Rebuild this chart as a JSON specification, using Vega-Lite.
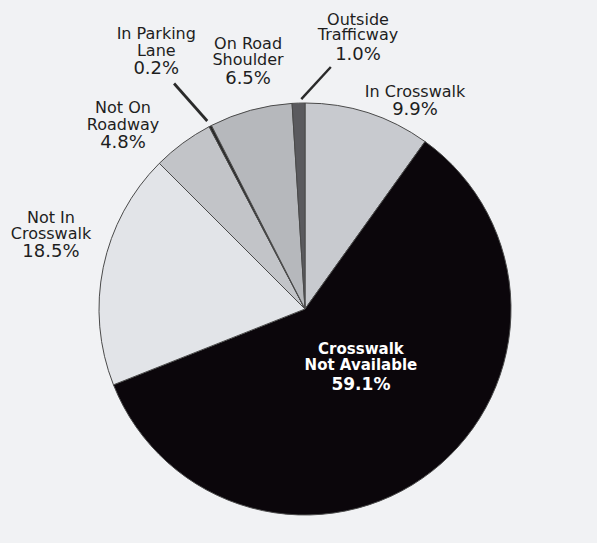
{
  "$schema": "https://vega.github.io/schema/vega-lite/v6.json",
  "autosize": {"type": "none"},
  "width": 584,
  "height": 468,
  "padding": {"left": 13, "top": 75, "right": 0, "bottom": 0},
  "background": "#f1f2f4",
  "view": {"stroke": null, "fill": "#f1f2f4"},
  "config": {
    "text": {"font": "DejaVu Sans", "color": "#1e1e1e"}
  },
  "data": {
    "values": [
      {"category": "In Crosswalk", "value": 9.9, "order": 1, "name": ["In Crosswalk"], "pct": "9.9%"},
      {"category": "Crosswalk Not Available", "value": 59.1, "order": 2, "name": ["Crosswalk", "Not Available"], "pct": "59.1%"},
      {"category": "Not In Crosswalk", "value": 18.5, "order": 3, "name": ["Not In", "Crosswalk"], "pct": "18.5%"},
      {"category": "Not On Roadway", "value": 4.8, "order": 4, "name": ["Not On", "Roadway"], "pct": "4.8%"},
      {"category": "In Parking Lane", "value": 0.2, "order": 5, "name": ["In Parking", "Lane"], "pct": "0.2%"},
      {"category": "On Road Shoulder", "value": 6.5, "order": 6, "name": ["On Road", "Shoulder"], "pct": "6.5%"},
      {"category": "Outside Trafficway", "value": 1.0, "order": 7, "name": ["Outside", "Trafficway"], "pct": "1.0%"}
    ]
  },
  "encoding": {
    "theta": {"field": "value", "type": "quantitative", "stack": true},
    "order": {"field": "order", "type": "quantitative"}
  },
  "layer": [
    {
      "mark": {"type": "arc", "radius": 206, "stroke": "#4a4a4a", "strokeWidth": 1},
      "encoding": {
        "color": {
          "field": "category", "type": "nominal", "legend": null,
          "scale": {
            "domain": ["In Crosswalk", "Crosswalk Not Available", "Not In Crosswalk", "Not On Roadway", "In Parking Lane", "On Road Shoulder", "Outside Trafficway"],
            "range": ["#c8cacf", "#0b060b", "#e2e4e8", "#c2c4c8", "#262626", "#b6b8bc", "#5a5a5e"]
          }
        }
      }
    },
    {
      "mark": {"type": "text", "radius": 237, "dx": 37.5, "dy": 17, "fontSize": 16, "baseline": "bottom", "lineHeight": 17},
      "encoding": {"text": {"condition": {"test": "datum.category === 'In Crosswalk'", "field": "name"}, "value": ""}}
    },
    {
      "mark": {"type": "text", "radius": 237, "dx": 37.5, "dy": 18, "fontSize": 18, "baseline": "top"},
      "encoding": {"text": {"condition": {"test": "datum.category === 'In Crosswalk'", "field": "pct"}, "value": ""}}
    },
    {
      "mark": {"type": "text", "radius": 86, "dx": 3, "dy": -20, "fontSize": 15, "fontWeight": "bold", "color": "#ffffff", "baseline": "bottom", "lineHeight": 16},
      "encoding": {"text": {"condition": {"test": "datum.category === 'Crosswalk Not Available'", "field": "name"}, "value": ""}}
    },
    {
      "mark": {"type": "text", "radius": 86, "dx": 3, "dy": 0, "fontSize": 17, "fontWeight": "bold", "color": "#ffffff", "baseline": "top"},
      "encoding": {"text": {"condition": {"test": "datum.category === 'Crosswalk Not Available'", "field": "pct"}, "value": ""}}
    },
    {
      "mark": {"type": "text", "radius": 263, "dx": 3.5, "dy": -30, "fontSize": 16, "baseline": "bottom", "lineHeight": 16},
      "encoding": {"text": {"condition": {"test": "datum.category === 'Not In Crosswalk'", "field": "name"}, "value": ""}}
    },
    {
      "mark": {"type": "text", "radius": 263, "dx": 3.5, "dy": -13, "fontSize": 18, "baseline": "top"},
      "encoding": {"text": {"condition": {"test": "datum.category === 'Not In Crosswalk'", "field": "pct"}, "value": ""}}
    },
    {
      "mark": {"type": "text", "radius": 253, "dx": -32, "dy": 11, "fontSize": 16, "baseline": "bottom", "lineHeight": 17},
      "encoding": {"text": {"condition": {"test": "datum.category === 'Not On Roadway'", "field": "name"}, "value": ""}}
    },
    {
      "mark": {"type": "text", "radius": 253, "dx": -32, "dy": 29, "fontSize": 18, "baseline": "top"},
      "encoding": {"text": {"condition": {"test": "datum.category === 'Not On Roadway'", "field": "pct"}, "value": ""}}
    },
    {
      "mark": {"type": "text", "radius": 291, "dx": -15, "dy": -9, "fontSize": 16, "baseline": "bottom", "lineHeight": 17.5},
      "encoding": {"text": {"condition": {"test": "datum.category === 'In Parking Lane'", "field": "name"}, "value": ""}}
    },
    {
      "mark": {"type": "text", "radius": 291, "dx": -15, "dy": 9, "fontSize": 18, "baseline": "top"},
      "encoding": {"text": {"condition": {"test": "datum.category === 'In Parking Lane'", "field": "pct"}, "value": ""}}
    },
    {
      "mark": {"type": "text", "radius": 248, "dx": 8.5, "dy": -18, "fontSize": 16, "baseline": "bottom", "lineHeight": 16},
      "encoding": {"text": {"condition": {"test": "datum.category === 'On Road Shoulder'", "field": "name"}, "value": ""}}
    },
    {
      "mark": {"type": "text", "radius": 248, "dx": 8.5, "dy": 0, "fontSize": 18, "baseline": "top"},
      "encoding": {"text": {"condition": {"test": "datum.category === 'On Road Shoulder'", "field": "pct"}, "value": ""}}
    },
    {
      "mark": {"type": "text", "radius": 271, "dx": 61.5, "dy": -10.5, "fontSize": 16, "baseline": "bottom", "lineHeight": 15.5},
      "encoding": {"text": {"condition": {"test": "datum.category === 'Outside Trafficway'", "field": "name"}, "value": ""}}
    },
    {
      "mark": {"type": "text", "radius": 271, "dx": 61.5, "dy": 8, "fontSize": 18, "baseline": "top"},
      "encoding": {"text": {"condition": {"test": "datum.category === 'Outside Trafficway'", "field": "pct"}, "value": ""}}
    },
    {
      "mark": {"type": "text", "radius": 240, "dx": -7.4, "dy": -1.7, "angle": -41.5, "fontSize": 55, "font": "Liberation Serif", "baseline": "middle", "color": "#2a2a2a"},
      "encoding": {"text": {"condition": {"test": "datum.category === 'In Parking Lane'", "value": "|"}, "value": ""}}
    },
    {
      "mark": {"type": "text", "radius": 228, "dx": 14.7, "dy": -13.5, "angle": 42.5, "fontSize": 48, "font": "Liberation Serif", "baseline": "middle", "color": "#2a2a2a"},
      "encoding": {"text": {"condition": {"test": "datum.category === 'Outside Trafficway'", "value": "|"}, "value": ""}}
    }
  ]
}
